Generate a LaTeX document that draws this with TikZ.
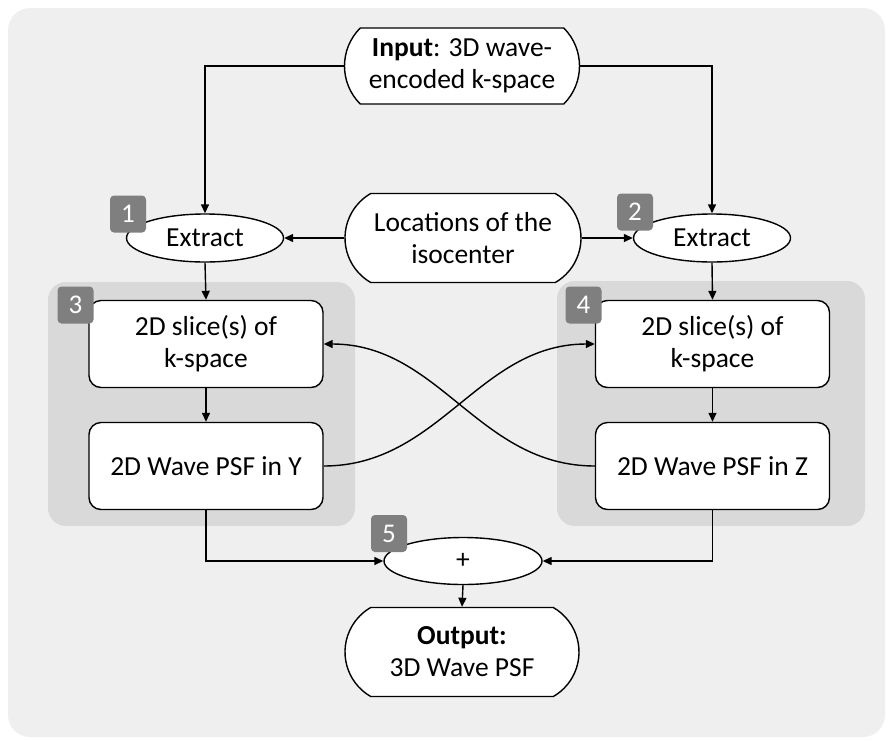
\documentclass[tikz,border=0pt]{standalone}
\usepackage{fontspec}
\setmainfont{Carlito}
\usetikzlibrary{shapes.geometric,shapes.misc,arrows.meta}
\definecolor{bgc}{HTML}{EFEFEF}
\definecolor{panelc}{HTML}{D9D9D9}
\definecolor{badgec}{HTML}{7F7F7F}
\begin{document}
\begin{tikzpicture}[x=1pt,y=-1pt,
  txt/.style={font=\fontsize{27.5}{32}\selectfont, align=center, inner sep=0pt},
  box/.style={txt, draw, line width=1.4pt, fill=white, rounded corners=12pt, minimum width=234pt, minimum height=87pt},
  oval/.style={txt, draw, line width=1.4pt, fill=white, ellipse, minimum width=157pt, minimum height=48pt},
  term/.style={txt, draw, line width=1.4pt, fill=white, rounded rectangle, rounded rectangle arc length=120, minimum width=236pt, minimum height=89pt},
  badge/.style={fill=badgec, rounded corners=4pt, minimum width=36pt, minimum height=37pt, text=white, font=\fontsize{27}{30}\selectfont, inner sep=0pt},
  arr/.style={line width=1.4pt, -{Triangle[length=9pt,width=8pt]}},
  panel/.style={fill=panelc, rounded corners=18pt}
]
\useasboundingbox (0,0) rectangle (892,740);
\fill[bgc, rounded corners=22pt] (8,8) rectangle (885,737);
\fill[panel] (48,282) rectangle (355,526);
\fill[panel] (557,281) rectangle (865,526);

\node[term, rounded rectangle arc length=90, minimum height=76pt, minimum width=235pt] (in) at (462,66) {\textbf{Input}: 3D wave-\\encoded k-space};
\node[term] (loc) at (463,238) {Locations of the\\isocenter};
\node[oval] (ex1) at (205,238) {Extract};
\node[oval] (ex2) at (712,238) {Extract};
\node[box] (sl) at (206,344) {2D slice(s) of\\k-space};
\node[box] (sr) at (712.5,344) {2D slice(s) of\\k-space};
\node[box] (wy) at (206,466) {2D Wave PSF in Y};
\node[box] (wz) at (712.5,466) {2D Wave PSF in Z};
\node[oval, minimum width=158pt, minimum height=47pt] (plus) at (463,561) {+};
\node[term, minimum width=234pt] (out) at (462,652) {\textbf{Output:}\\3D Wave PSF};

\draw[arr] (in.west) -| (ex1.north);
\draw[arr] (in.east) -| (ex2.north);
\draw[arr] (loc.west) -- (ex1.east);
\draw[arr] (loc.east) -- (ex2.west);
\draw[arr] (ex1.south) -- (sl.north);
\draw[arr] (ex2.south) -- (sr.north);
\draw[arr] (sl.south) -- (wy.north);
\draw[arr] (sr.south) -- (wz.north);
\draw[arr] (wy.east) to[out=0,in=180] (sr.west);
\draw[arr] (wz.west) to[out=180,in=0] (sl.east);
\draw[arr] (wy.south) |- (plus.west);
\draw[arr] (wz.south) |- (plus.east);
\draw[arr] (plus.south) -- (out.north);

\node[badge] (b1) at (128,214) {1};
\node[badge] (b2) at (635,212) {2};
\node[badge] (b3) at (75.5,305) {3};
\node[badge] (b4) at (583.5,305) {4};
\node[badge] (b5) at (389,533.5) {5};
\end{tikzpicture}
\end{document}
